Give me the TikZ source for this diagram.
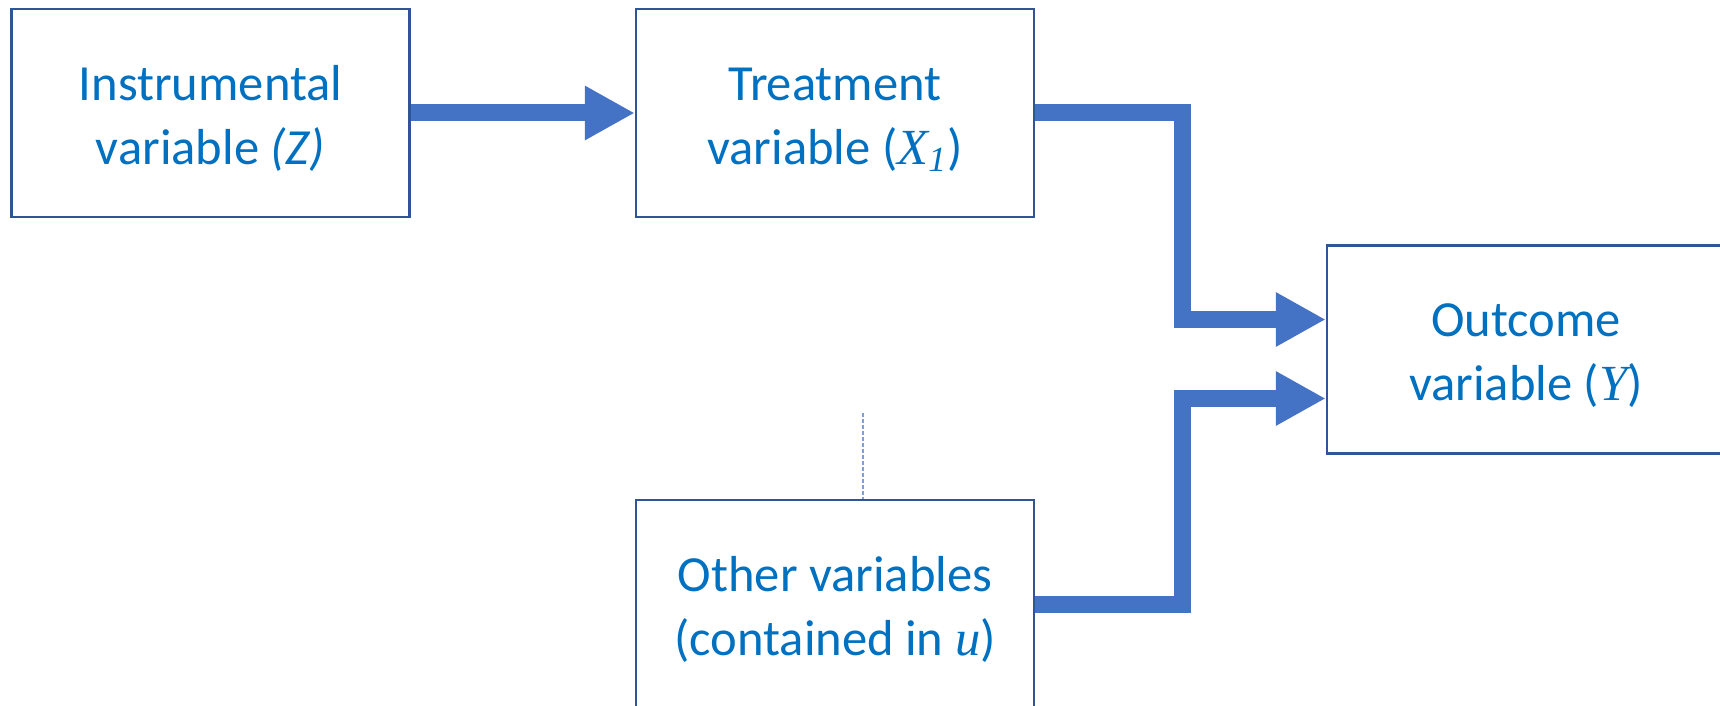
\documentclass[tikz,border=0pt]{standalone}
\usepackage{fontspec}
\setmainfont{Carlito}
\newfontfamily\serifvar{Liberation Serif}
\usetikzlibrary{arrows.meta}
\definecolor{boxline}{HTML}{2F5597}
\definecolor{txtblue}{HTML}{0070C0}
\definecolor{arrblue}{HTML}{4472C4}
\definecolor{dashblue}{HTML}{7F9FD8}
% italic serif letters for the variables
\newcommand{\mvar}[1]{{\serifvar\itshape #1}}
\newcommand{\topstrut}{\rule{0pt}{23pt}}
\begin{document}
\begin{tikzpicture}[x=0.5pt,y=-0.5pt,
  varbox/.style={draw=boxline,line width=1.25pt,fill=white,minimum width=199pt,minimum height=104pt,
    align=center,text=txtblue,font=\fontsize{25.3}{32}\selectfont},
  bigarrow/.style={arrblue,line width=8.5pt,-{Triangle[length=25pt,width=25.5pt]}}]
\clip (0,0) rectangle (1720,706);
\node[varbox] (iv) at (210.5,113) {\topstrut Instrumental\\variable \textit{(Z)}};
\node[varbox] (tv) at (835,113) {\topstrut Treatment\\variable (\mvar{X\textsubscript{1}})};
\node[varbox] (yv) at (1526,349.5) {\topstrut Outcome\\variable (\mvar{Y})};
\node[varbox] (ov) at (835,604) {\topstrut Other variables\\(contained in \mvar{u})};
\coordinate (utop) at (863,413);
\draw[bigarrow] (iv) -- (tv);
\draw[bigarrow] (tv.east) -- ++(147,0) |- ([yshift=15pt]yv.west);
\draw[bigarrow] (ov.east) -- ++(147,0) |- ([yshift=-24.5pt]yv.west);
\draw[dashblue,line width=0.6pt,dash pattern=on 2pt off 1pt] (utop) -- (utop |- ov.north);
\end{tikzpicture}
\end{document}
